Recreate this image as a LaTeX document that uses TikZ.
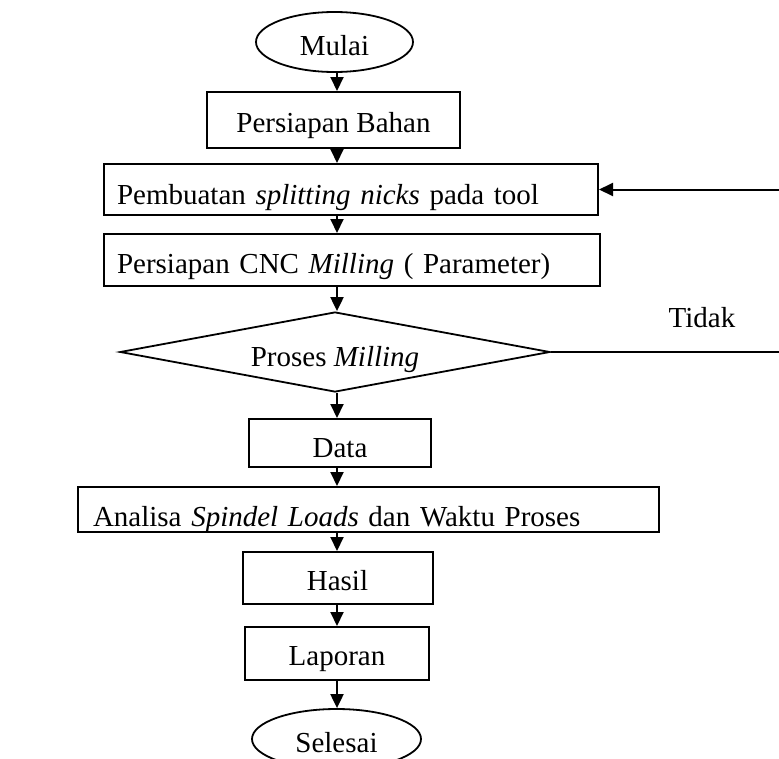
\documentclass[tikz,border=0pt]{standalone}
\usepackage{fontspec}
\setmainfont{Liberation Serif}
\usetikzlibrary{shapes.geometric,arrows.meta}

\tikzset{
  box/.style={draw,rectangle,line width=2pt,inner sep=0pt,text height=26pt,text depth=0pt},
  widebox/.style={box,align=left,inner xsep=13pt},
  terminal/.style={draw,ellipse,line width=1.8pt,inner sep=0pt,minimum height=60pt,text height=26pt,text depth=0pt},
  decision/.style={draw,diamond,aspect=5.4,line width=1.8pt,inner sep=0pt,text height=28pt,text depth=0pt},
  arr/.style={line width=2pt,-{Triangle[length=14pt,width=13pt]}}
}

\begin{document}
\begin{tikzpicture}[x=1pt,y=-1pt,font=\fontsize{29pt}{34pt}\selectfont]
            \useasboundingbox (0,0) rectangle (779,758);
            \clip (0,0) rectangle (779,758);
            \coordinate (spine) at (337,0);

            % steps
            \node[terminal,minimum width=157pt] (mulai) at (334.5,42) {Mulai};
            \node[box,minimum width=253pt,minimum height=56pt,text height=24pt] (bahan) at (333.5,120) {Persiapan Bahan};
            \node[widebox,text width=468pt,minimum height=51pt,text height=29pt] (nicks) at (351,189.5) {Pembuatan \textit{splitting nicks} pada tool};
            \node[widebox,text width=470pt,minimum height=52pt] (cnc) at (352,260) {Persiapan CNC \textit{Milling} ( Parameter)};
            \node[decision,minimum width=430pt,minimum height=80pt] (milling) at (335,352) {Proses \textit{Milling}};
            \node[box,minimum width=182pt,minimum height=48pt,text height=28pt] (data) at (340,443) {Data};
            \node[widebox,text width=551pt,inner xsep=15pt,minimum height=45pt,text height=33pt] (analisa) at (368.5,509.5) {Analisa \textit{Spindel Loads} dan Waktu Proses};
            \node[box,minimum width=190pt,minimum height=52pt,text height=24pt] (hasil) at (337.5,578) {Hasil};
            \node[box,minimum width=184pt,minimum height=53pt,text height=23pt] (laporan) at (337,653.5) {Laporan};
            \node[terminal,minimum width=169pt] (selesai) at (336.5,739) {Selesai};
            \node[anchor=base] (tidak) at (702,327) {Tidak};

            % flow down the middle
            \foreach \a/\b in {mulai/bahan,bahan/nicks,nicks/cnc,cnc/milling,milling/data,data/analisa,analisa/hasil,hasil/laporan,laporan/selesai}
                \draw[arr] (\a.south -| spine) -- (\b.north -| spine);

            % back to the tool when not ok
            \draw[arr] (milling.east) -- ++(250,0) |- (nicks.east);
        \end{tikzpicture}
\end{document}
